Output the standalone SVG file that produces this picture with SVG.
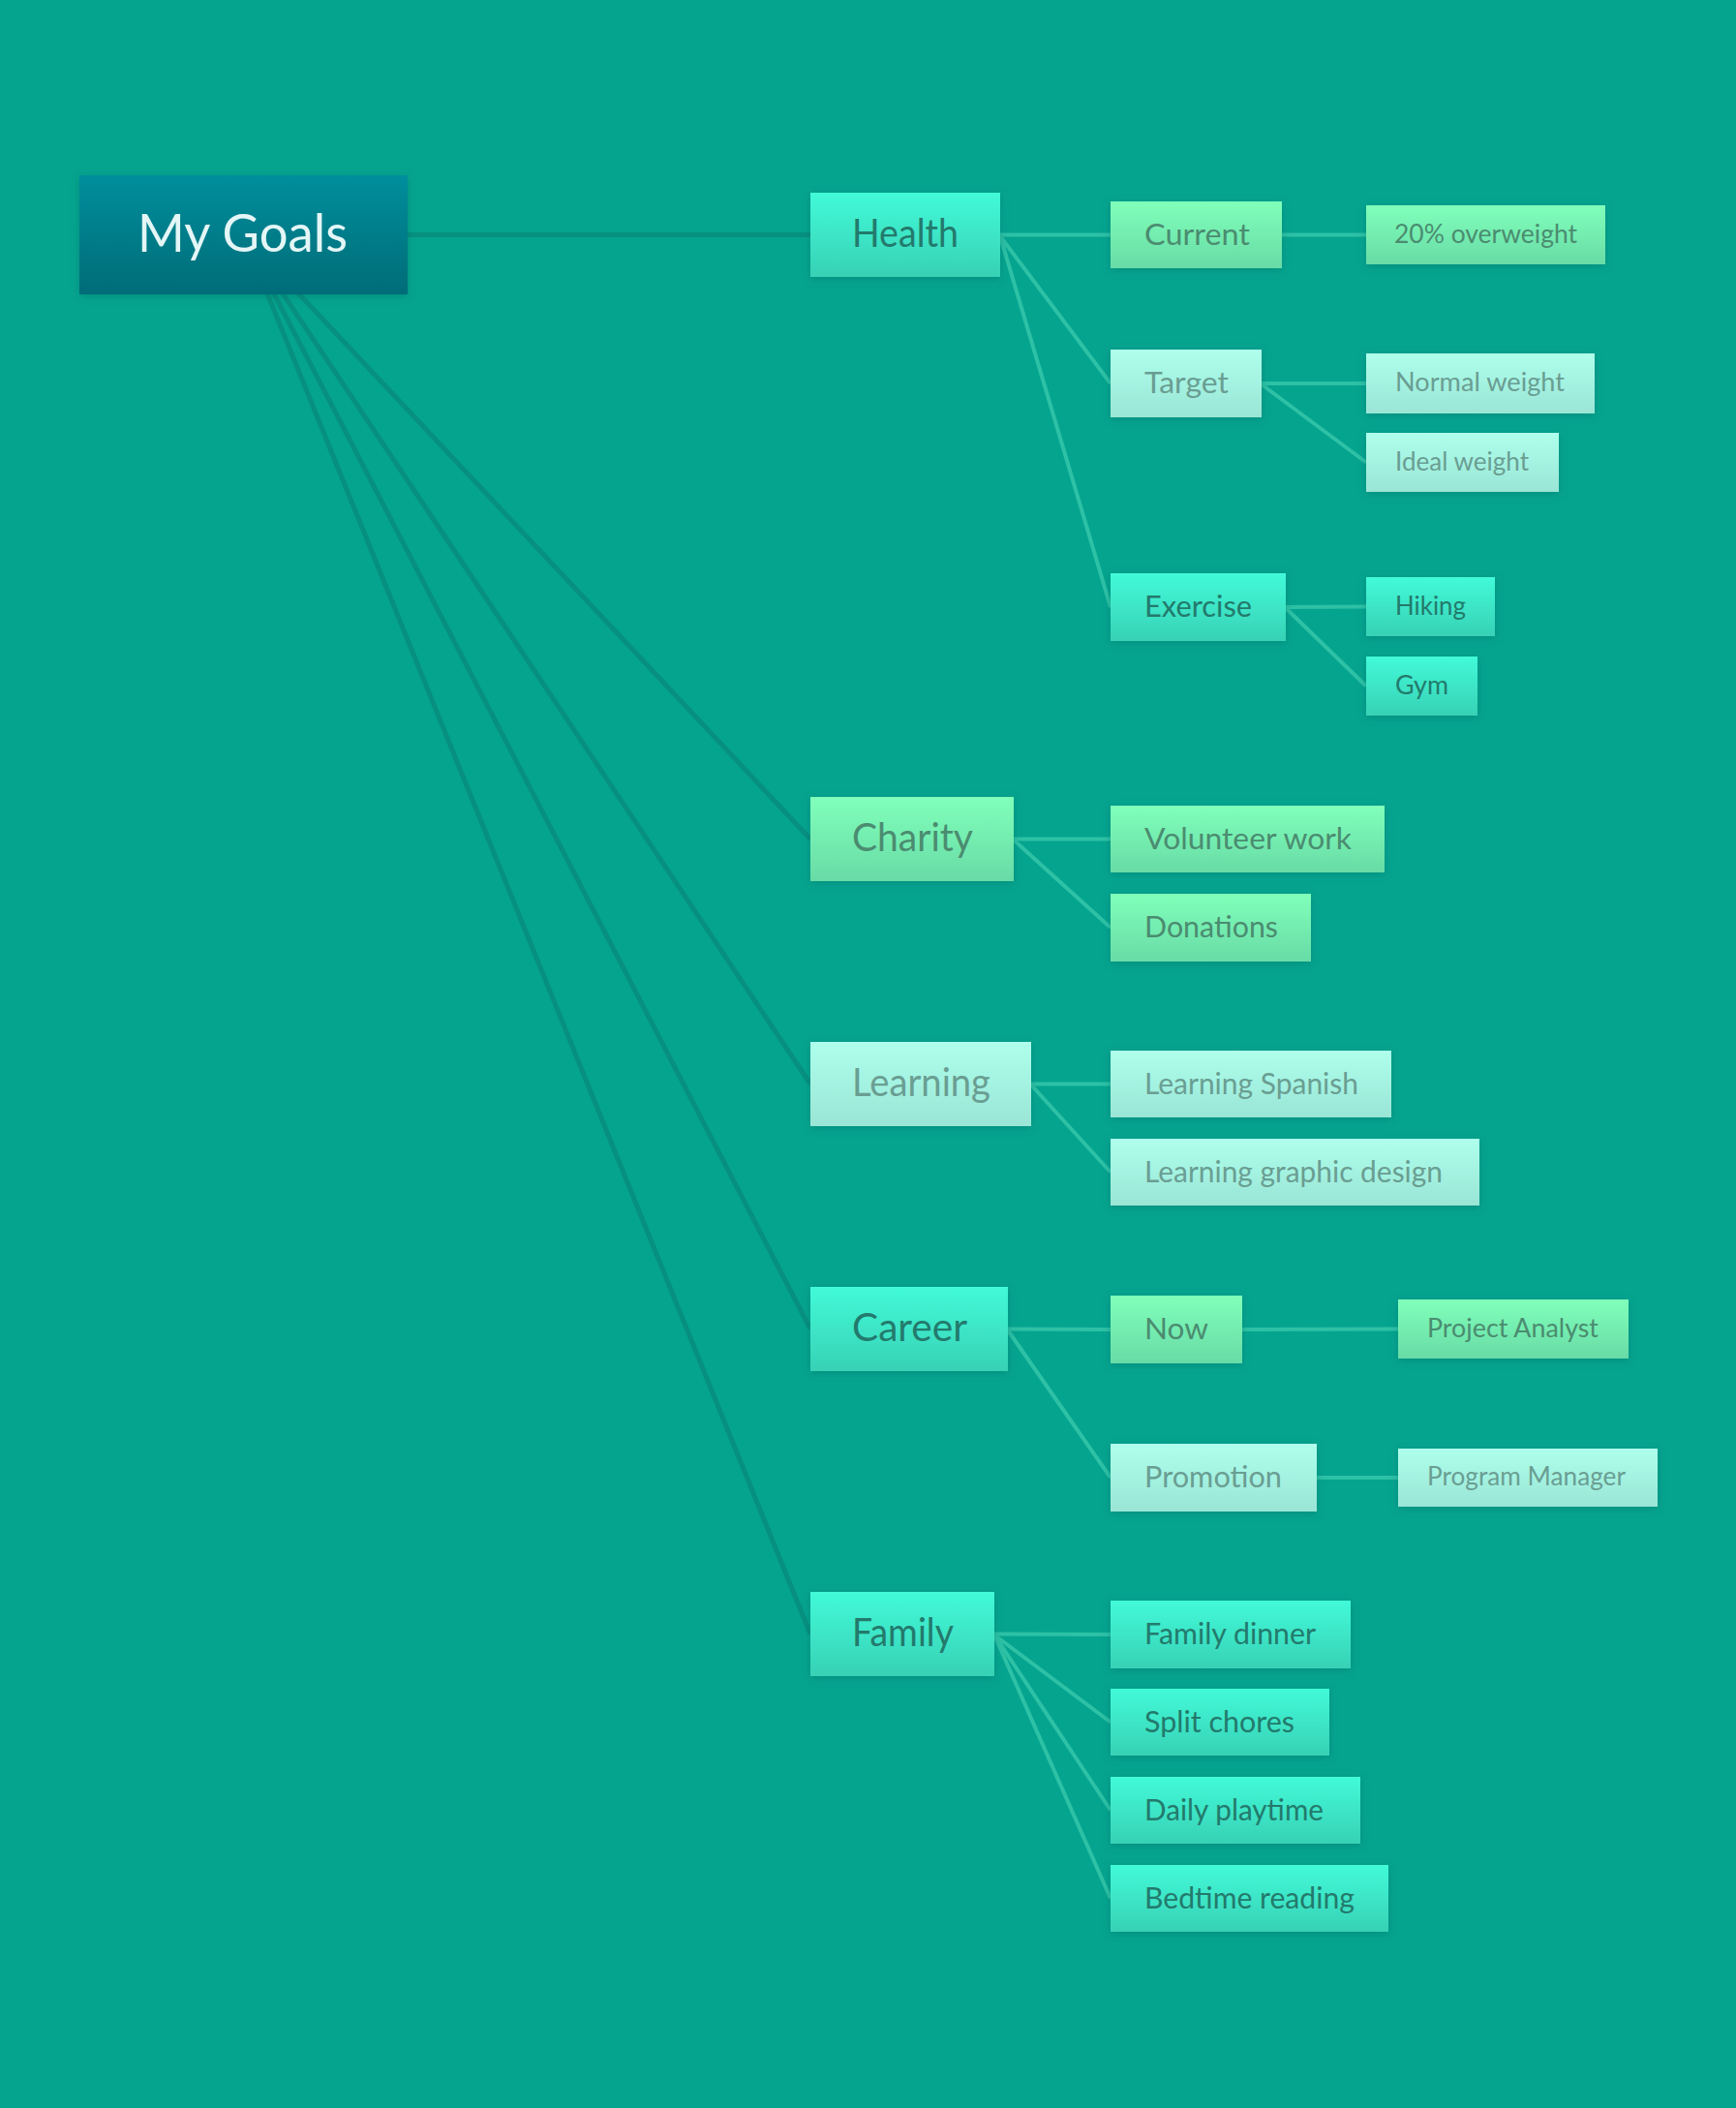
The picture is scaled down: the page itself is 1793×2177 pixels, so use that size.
<svg xmlns="http://www.w3.org/2000/svg" width="1793" height="2177" viewBox="0 0 1793 2177">
<defs>
<linearGradient id="gRoot" x1="0" y1="0" x2="0" y2="1"><stop offset="0" stop-color="#038E9C"/><stop offset="1" stop-color="#016C78"/></linearGradient>
<linearGradient id="gTurq" x1="0" y1="0" x2="0" y2="1"><stop offset="0" stop-color="#42FAD8"/><stop offset="1" stop-color="#37D1B5"/></linearGradient>
<linearGradient id="gGreen" x1="0" y1="0" x2="0" y2="1"><stop offset="0" stop-color="#80FFBA"/><stop offset="1" stop-color="#68DBA6"/></linearGradient>
<linearGradient id="gPale" x1="0" y1="0" x2="0" y2="1"><stop offset="0" stop-color="#AEFFEC"/><stop offset="1" stop-color="#9AE5D6"/></linearGradient>
<filter id="sh" x="-10%" y="-20%" width="120%" height="150%"><feDropShadow dx="0" dy="2" stdDeviation="4" flood-color="#006458" flood-opacity="0.35"/></filter>
</defs>
<style>
text{font-family:"Lato","Liberation Sans",sans-serif;}
.root rect{fill:url(#gRoot);filter:url(#sh);}
.root text{fill:#E4F6F6;font-size:54px;}
.turq rect{fill:url(#gTurq);filter:url(#sh);}
.turq text{fill:#237A6C;}
.green rect{fill:url(#gGreen);filter:url(#sh);}
.green text{fill:#4B8C70;}
.pale rect{fill:url(#gPale);filter:url(#sh);}
.pale text{fill:#6A9E92;}
.l1 text{font-size:40px;}
.l2 text{font-size:30px;}
.l3 text{font-size:27px;}
.dark line{stroke:#07907F;stroke-width:5;}
.light line{stroke:#2DC1A6;stroke-width:4;}
</style>
<rect x="0" y="0" width="1793" height="2177" fill="#05A48F"/>
<g id="connectors">
<g class="dark">
<line x1="251.5" y1="242.5" x2="837" y2="242.5"/>
<line x1="251.5" y1="242.5" x2="837" y2="866.5"/>
<line x1="251.5" y1="242.5" x2="837" y2="1119.5"/>
<line x1="251.5" y1="242.5" x2="837" y2="1372.5"/>
<line x1="251.5" y1="242.5" x2="837" y2="1687.5"/>
</g>
<g class="light">
<line x1="1033" y1="242.5" x2="1147" y2="242.5"/>
<line x1="1033" y1="244" x2="1147" y2="396"/>
<line x1="1033" y1="244" x2="1147" y2="627"/>
<line x1="1324" y1="242.5" x2="1411" y2="242.5"/>
<line x1="1303" y1="396" x2="1411" y2="396"/>
<line x1="1303" y1="397" x2="1411" y2="477.5"/>
<line x1="1328" y1="627" x2="1411" y2="626.5"/>
<line x1="1328" y1="628" x2="1411" y2="708.5"/>
<line x1="1047" y1="866.5" x2="1147" y2="866.5"/>
<line x1="1047" y1="867.5" x2="1147" y2="958"/>
<line x1="1065" y1="1119.5" x2="1147" y2="1119.5"/>
<line x1="1065" y1="1120.5" x2="1147" y2="1210.5"/>
<line x1="1041" y1="1372.5" x2="1147" y2="1373"/>
<line x1="1041" y1="1374" x2="1147" y2="1526"/>
<line x1="1283" y1="1373" x2="1444" y2="1372.5"/>
<line x1="1360" y1="1526" x2="1444" y2="1526"/>
<line x1="1027" y1="1687.5" x2="1147" y2="1688"/>
<line x1="1027" y1="1688.5" x2="1147" y2="1778.5"/>
<line x1="1027" y1="1688.5" x2="1147" y2="1869.5"/>
<line x1="1027" y1="1688.5" x2="1147" y2="1960.5"/>
</g>
</g>
<g id="my-goals" class="root"><rect x="82" y="181" width="339" height="123"/><text x="142" y="260" textLength="217" lengthAdjust="spacingAndGlyphs">My Goals</text></g>
<g id="health" class="turq l1"><rect x="837" y="199" width="196" height="87"/><text x="880" y="255" textLength="110" lengthAdjust="spacingAndGlyphs">Health</text></g>
<g id="charity" class="green l1"><rect x="837" y="823" width="210" height="87"/><text x="880" y="879" textLength="125" lengthAdjust="spacingAndGlyphs">Charity</text></g>
<g id="learning" class="pale l1"><rect x="837" y="1076" width="228" height="87"/><text x="880" y="1132" textLength="143" lengthAdjust="spacingAndGlyphs">Learning</text></g>
<g id="career" class="turq l1"><rect x="837" y="1329" width="204" height="87"/><text x="880" y="1385" textLength="119" lengthAdjust="spacingAndGlyphs">Career</text></g>
<g id="family" class="turq l1"><rect x="837" y="1644" width="190" height="87"/><text x="880" y="1700" textLength="105" lengthAdjust="spacingAndGlyphs">Family</text></g>
<g id="current" class="green l2"><rect x="1147" y="208" width="177" height="69"/><text x="1182" y="253" textLength="109" lengthAdjust="spacingAndGlyphs">Current</text></g>
<g id="target" class="pale l2"><rect x="1147" y="361" width="156" height="70"/><text x="1182" y="406" textLength="87" lengthAdjust="spacingAndGlyphs">Target</text></g>
<g id="exercise" class="turq l2"><rect x="1147" y="592" width="181" height="70"/><text x="1182" y="637" textLength="111" lengthAdjust="spacingAndGlyphs">Exercise</text></g>
<g id="volunteer-work" class="green l2"><rect x="1147" y="832" width="283" height="69"/><text x="1182" y="877" textLength="214" lengthAdjust="spacingAndGlyphs">Volunteer work</text></g>
<g id="donations" class="green l2"><rect x="1147" y="923" width="207" height="70"/><text x="1182" y="968" textLength="138" lengthAdjust="spacingAndGlyphs">Donations</text></g>
<g id="learning-spanish" class="pale l2"><rect x="1147" y="1085" width="290" height="69"/><text x="1182" y="1130" textLength="221" lengthAdjust="spacingAndGlyphs">Learning Spanish</text></g>
<g id="learning-graphic-design" class="pale l2"><rect x="1147" y="1176" width="381" height="69"/><text x="1182" y="1221" textLength="308" lengthAdjust="spacingAndGlyphs">Learning graphic design</text></g>
<g id="now" class="green l2"><rect x="1147" y="1338" width="136" height="70"/><text x="1182" y="1383" textLength="66" lengthAdjust="spacingAndGlyphs">Now</text></g>
<g id="promotion" class="pale l2"><rect x="1147" y="1491" width="213" height="70"/><text x="1182" y="1536" textLength="142" lengthAdjust="spacingAndGlyphs">Promotion</text></g>
<g id="family-dinner" class="turq l2"><rect x="1147" y="1653" width="248" height="70"/><text x="1182" y="1698" textLength="177" lengthAdjust="spacingAndGlyphs">Family dinner</text></g>
<g id="split-chores" class="turq l2"><rect x="1147" y="1744" width="226" height="69"/><text x="1182" y="1789" textLength="155" lengthAdjust="spacingAndGlyphs">Split chores</text></g>
<g id="daily-playtime" class="turq l2"><rect x="1147" y="1835" width="258" height="69"/><text x="1182" y="1880" textLength="185" lengthAdjust="spacingAndGlyphs">Daily playtime</text></g>
<g id="bedtime-reading" class="turq l2"><rect x="1147" y="1926" width="287" height="69"/><text x="1182" y="1971" textLength="217" lengthAdjust="spacingAndGlyphs">Bedtime reading</text></g>
<g id="overweight" class="green l3"><rect x="1411" y="212" width="247" height="61"/><text x="1440" y="251" textLength="189" lengthAdjust="spacingAndGlyphs">20% overweight</text></g>
<g id="normal-weight" class="pale l3"><rect x="1411" y="365" width="236" height="62"/><text x="1441" y="404" textLength="175" lengthAdjust="spacingAndGlyphs">Normal weight</text></g>
<g id="ideal-weight" class="pale l3"><rect x="1411" y="447" width="199" height="61"/><text x="1441" y="486" textLength="138" lengthAdjust="spacingAndGlyphs">Ideal weight</text></g>
<g id="hiking" class="turq l3"><rect x="1411" y="596" width="133" height="61"/><text x="1441" y="635" textLength="73" lengthAdjust="spacingAndGlyphs">Hiking</text></g>
<g id="gym" class="turq l3"><rect x="1411" y="678" width="115" height="61"/><text x="1441" y="717" textLength="55" lengthAdjust="spacingAndGlyphs">Gym</text></g>
<g id="project-analyst" class="green l3"><rect x="1444" y="1342" width="238" height="61"/><text x="1474" y="1381" textLength="177" lengthAdjust="spacingAndGlyphs">Project Analyst</text></g>
<g id="program-manager" class="pale l3"><rect x="1444" y="1496" width="268" height="60"/><text x="1474" y="1534" textLength="205" lengthAdjust="spacingAndGlyphs">Program Manager</text></g>
</svg>
